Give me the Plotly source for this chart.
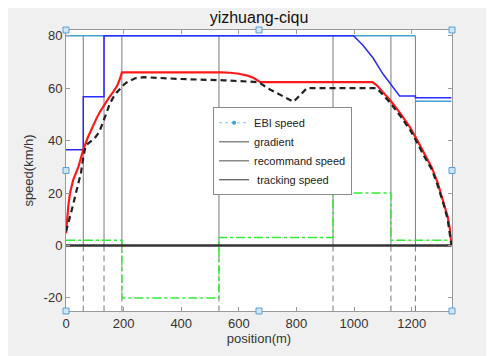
import plotly.graph_objects as go

# ---------------- data ----------------
ebi_x = [0, 1213, None, 1213, 1338]
ebi_y = [80, 80, None, 55, 55]

limit_x = [0, 60, 60, 132, 132, 998, 1030, 1050, 1058, 1066, 1100, 1158, 1213, 1213, 1338]
limit_y = [36.5, 36.5, 56.7, 56.7, 80, 80, 76.5, 73.5, 72.3, 71.5, 65.5, 57, 57, 56.4, 56.4]

brake_x = [0, 3, 8, 14, 25, 43, 60, 75, 90, 105, 118, 132, 150, 164, 178, 187, 194,
           540, 570, 600, 630, 650, 665, 675,
           1064, 1080, 1100, 1125, 1160, 1195, 1220, 1241, 1270, 1290, 1310, 1325, 1333, 1338]
brake_y = [4.6, 10, 15, 20, 25, 30, 36.5, 41, 45, 48.3, 51, 53.5, 56.5, 58.6, 61, 63.5, 66,
           66, 65.9, 65.5, 64.8, 64, 63, 62.3,
           62.3, 61, 58.5, 55.5, 50.5, 45, 40, 35.5, 29.7, 24, 17, 11, 6, 0]

track_x = [0, 8, 20, 31, 42, 52, 60, 66, 72, 85, 100, 110, 118, 130, 141, 152, 164, 177, 190,
           202, 215, 240, 270, 400, 550, 640, 669,
           700, 790, 836, 1079, 1100, 1125, 1160, 1195, 1220, 1241, 1270, 1290, 1310, 1325, 1338]
track_y = [5.3, 8.4, 13.5, 18.4, 23, 27.8, 33.5, 37, 38.5, 39.5, 41, 42.5, 44, 47.5, 51, 54,
           56.5, 58.5, 60, 61.5, 62.5, 63.8, 64.2, 63.5, 63, 62.5, 62.3,
           60, 54.8, 60, 60, 57.5, 54.5, 49.5, 44, 39, 34.5, 29, 23, 16, 10, 0]

grad_x = [0, 194, 194, 531, 531, 927, 927, 1128, 1128, 1338, 1338]
grad_y = [2, 2, -20, -20, 3, 3, 20, 20, 2, 2, 0]

section_bounds = [60, 132, 194, 531, 927, 1128, 1213]

zero_x = [0, 1338]
zero_y = [0, 0]

x_ticks = [0, 200, 400, 600, 800, 1000, 1200]
y_ticks = [-20, 0, 20, 40, 60, 80]

# ---------------- figure ----------------
fig = go.Figure()

# vertical section lines: solid above zero, dashed below
up_x, up_y, dn_x, dn_y = [], [], [], []
for b in section_bounds:
    up_x += [b, b, None]
    up_y += [0, 80, None]
    dn_x += [b, b, None]
    dn_y += [0, -25, None]
fig.add_trace(go.Scatter(x=up_x, y=up_y, mode="lines", showlegend=False,
                         line=dict(color="#7a7a7a", width=1), hoverinfo="skip"))
fig.add_trace(go.Scatter(x=dn_x, y=dn_y, mode="lines", showlegend=False,
                         line=dict(color="#7a7a7a", width=1, dash="6px,4px"), hoverinfo="skip"))

fig.add_trace(go.Scatter(x=grad_x, y=grad_y, mode="lines", showlegend=False,
                         line=dict(color="#33ee33", width=1.5, dash="dashdot")))
fig.add_trace(go.Scatter(x=zero_x, y=zero_y, mode="lines", showlegend=False,
                         line=dict(color="#333333", width=2.5)))
fig.add_trace(go.Scatter(x=ebi_x, y=ebi_y, mode="lines", showlegend=False,
                         line=dict(color="#3ea2d6", width=1.5)))
fig.add_trace(go.Scatter(x=limit_x, y=limit_y, mode="lines", showlegend=False,
                         line=dict(color="#2a2aff", width=1.5)))
fig.add_trace(go.Scatter(x=brake_x, y=brake_y, mode="lines", showlegend=False,
                         line=dict(color="#ff1a1a", width=2.2)))
fig.add_trace(go.Scatter(x=track_x, y=track_y, mode="lines", showlegend=False,
                         line=dict(color="#222222", width=2.2, dash="6px,4px")))

# legend entries (as in the reference legend)
fig.add_trace(go.Scatter(x=[None], y=[None], mode="lines+markers", name="EBI speed",
                         line=dict(color="#7fc4ea", width=1, dash="dot"),
                         marker=dict(color="#3ea2d6", size=4)))
fig.add_trace(go.Scatter(x=[None], y=[None], mode="lines", name="gradient",
                         line=dict(color="#8a8a8a", width=1.5)))
fig.add_trace(go.Scatter(x=[None], y=[None], mode="lines", name="recommand speed",
                         line=dict(color="#8a8a8a", width=1.5)))
fig.add_trace(go.Scatter(x=[None], y=[None], mode="lines", name=" tracking speed",
                         line=dict(color="#333333", width=1)))

axis_common = dict(showgrid=False, zeroline=False, showline=True, linecolor="#9a9a9a",
                   linewidth=1, mirror="ticks", ticks="inside", ticklen=4, tickcolor="#9a9a9a",
                   tickfont=dict(family="Liberation Sans, Arial", size=13, color="#333333"))

# page body has an 8px margin; figure sized so the axes land where the reference has them
fig.update_layout(
    width=486, height=348,
    margin=dict(l=58, r=42, t=22, b=38),
    paper_bgcolor="#f0f0f0",
    plot_bgcolor="#ffffff",
    font=dict(family="Liberation Sans, Arial", color="#333333"),
    title=dict(text="yizhuang-ciqu", x=0.5, xref="paper", xanchor="center",
               y=1 - 9 / 348, yref="container", yanchor="middle",
               font=dict(size=16, color="#111111")),
    xaxis=dict(range=[0, 1340], tickvals=x_ticks, ticktext=[str(v) for v in x_ticks],
               title=dict(text="position(m)", standoff=4,
                          font=dict(size=13, color="#333333")),
               **axis_common),
    yaxis=dict(range=[-25, 82.2], tickvals=y_ticks, ticktext=[str(v) for v in y_ticks],
               title=dict(text="speed(km/h)", standoff=7,
                          font=dict(size=13, color="#333333")),
               **axis_common),
    legend=dict(x=0.381, y=0.725, xanchor="left", yanchor="top",
                bgcolor="#ffffff", bordercolor="#8a8a8a", borderwidth=1,
                font=dict(size=11, color="#222222"), tracegroupgap=0,
                itemwidth=30),
    showlegend=True,
)

# MATLAB-style selection handles around the axes box
hx, hy = 3 / 386, 3 / 285
for px, py in [(0, 0), (0.5, 0), (1, 0), (0, 0.5), (1, 0.5), (0, 1), (0.5, 1), (1, 1)]:
    fig.add_shape(type="rect", xref="paper", yref="paper",
                  x0=px - hx, x1=px + hx, y0=py - hy, y1=py + hy,
                  line=dict(color="#5a9fd4", width=1), fillcolor="#cfe6f7", layer="above")

fig.write_html("out.html")
